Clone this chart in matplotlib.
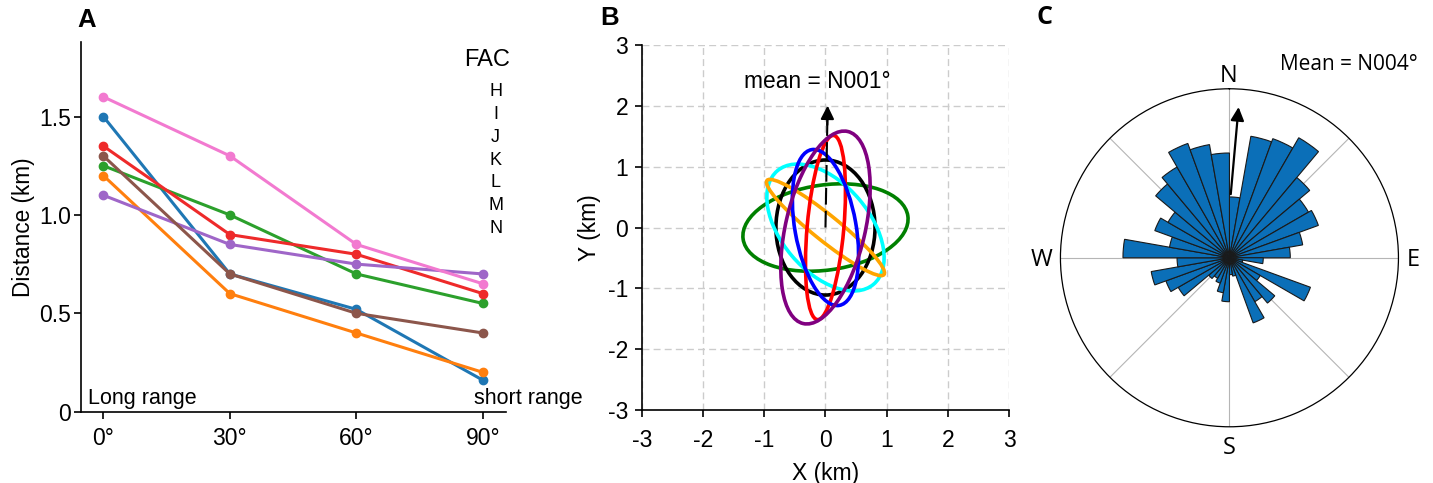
import numpy as np
import matplotlib
matplotlib.use('Agg')
from matplotlib import pyplot as plt
from matplotlib.patches import Ellipse

plt.rcParams['font.family'] = ['Liberation Sans', 'DejaVu Sans']
plt.rcParams['axes.unicode_minus'] = False

# ---- panel A data ----
angles = [0, 30, 60, 90]
angle_labels = ['0°', '30°', '60°', '90°']
fac_names = ['H', 'I', 'J', 'K', 'L', 'M', 'N']
dist_H = [1.50, 0.70, 0.52, 0.16]
dist_I = [1.20, 0.60, 0.40, 0.20]
dist_J = [1.25, 1.00, 0.70, 0.55]
dist_K = [1.35, 0.90, 0.80, 0.60]
dist_L = [1.10, 0.85, 0.75, 0.70]
dist_M = [1.30, 0.70, 0.50, 0.40]
dist_N = [1.60, 1.30, 0.85, 0.65]
line_colors = ['#1f77b4', '#ff7f0e', '#2ca02c', '#ee2a2a', '#9f66c8', '#8c564b', '#f27ad0']

# ---- panel B data (semi-axes in km, orientation of the first axis in deg) ----
ell_colors = ['green', 'black', 'cyan', 'orange', 'red', 'blue', 'purple']
ell_semi1 = [1.36, 1.11, 1.22, 1.23, 1.52, 1.30, 1.62]
ell_semi2 = [0.70, 0.81, 0.72, 0.21, 0.30, 0.50, 0.65]
ell_angle = [8, 90, -50, -39, 85, 100, 77]
mean_b = 1  # N001

# ---- panel C data (10 deg bins clockwise from N, relative frequency) ----
bin_start = np.arange(0, 360, 10)
rose_freq = [0.36, 0.73, 0.75, 0.82, 0.62, 0.54, 0.56, 0.44, 0.36,
             0.20, 0.08, 0.51, 0.21, 0.35, 0.30, 0.41, 0.11, 0.10,
             0.26, 0.21, 0.16, 0.14, 0.16, 0.35, 0.40, 0.47, 0.31,
             0.63, 0.36, 0.47, 0.42, 0.57, 0.62, 0.72, 0.68, 0.62]
mean_c = 4  # N004

fig = plt.figure(figsize=(14.33, 4.83), dpi=100)

# ================= A =================
axA = fig.add_axes([0.0565, 0.1476, 0.2964, 0.766])
series = [dist_H, dist_I, dist_J, dist_K, dist_L, dist_M, dist_N]
for vals, c in zip(series, line_colors):
    axA.plot(angles, vals, '-o', color=c, lw=2.2, ms=6)
axA.set_xlim(-5.3, 95.4)
axA.set_ylim(0, 1.88)
axA.set_xticks(angles)
axA.set_xticklabels(angle_labels)
axA.set_yticks([0, 0.5, 1.0, 1.5])
axA.set_yticklabels(['0', '0.5', '1.0', '1.5'])
axA.spines['top'].set_visible(False)
axA.spines['right'].set_visible(False)
for s in ['left', 'bottom']:
    axA.spines[s].set_linewidth(1.2)
axA.tick_params(labelsize=16.5, width=1.2, length=5)
axA.tick_params(axis='x', pad=6)
axA.tick_params(axis='y', pad=2)
axA.set_ylabel('Distance (km)', fontsize=16.3, labelpad=3)
axA.text(-3.6, 0.04, 'Long range', fontsize=15.5, va='baseline', ha='left')
axA.text(113.7, 0.04, 'short range', fontsize=15.5, va='baseline', ha='right', clip_on=False)
axA.text(90.9, 1.785, 'FAC', fontsize=17, ha='center', va='center')
for i, name in enumerate(fac_names):
    axA.text(93.0, 1.627 - i * 0.116, name, fontsize=13, ha='center', va='center')
fig.text(77 / 1433, 1 - 20 / 483, 'A', fontsize=18.5, fontweight='bold', va='center', ha='left')

# ================= B =================
axB = fig.add_axes([0.448, 0.1511, 0.2561, 0.7557])
for c, a1, a2, ang in zip(ell_colors, ell_semi1, ell_semi2, ell_angle):
    axB.add_patch(Ellipse((0, 0), 2 * a1, 2 * a2, angle=ang, fill=False,
                          edgecolor=c, lw=2.6, zorder=3))
tip = (2.05 * np.sin(np.radians(mean_b)), 2.05 * np.cos(np.radians(mean_b)))
axB.plot([0, tip[0] * 0.87], [0, tip[1] * 0.87], color='k', lw=1.5,
         ls=(0, (8, 3)), zorder=4)
axB.annotate('', xy=tip, xytext=(tip[0] * 0.8, tip[1] * 0.8),
             arrowprops=dict(arrowstyle='-|>', color='k', lw=1.5, mutation_scale=20),
             zorder=5)
axB.text(-0.13, 2.40, 'mean = N001°', fontsize=16.4, ha='center', va='center')
axB.set_xlim(-3, 3)
axB.set_ylim(-3, 3)
axB.set_xticks(range(-3, 4))
axB.set_yticks(range(-3, 4))
axB.grid(True, color='#cccccc', ls=(0, (5, 3)), lw=1.0)
axB.set_axisbelow(True)
axB.spines['top'].set_visible(False)
axB.spines['right'].set_visible(False)
for s in ['left', 'bottom']:
    axB.spines[s].set_linewidth(1.2)
axB.tick_params(labelsize=16.5, width=1.2, length=5)
axB.tick_params(axis='x', pad=9)
axB.tick_params(axis='y', pad=5)
axB.set_xlabel('X (km)', fontsize=16.5, labelpad=7)
axB.set_ylabel('Y (km)', fontsize=16.5, labelpad=5)
fig.text(600 / 1433, 1 - 18 / 483, 'B', fontsize=18.5, fontweight='bold', va='center', ha='left')

# ================= C =================
axC = fig.add_axes([0.740, 0.1164, 0.2359, 0.6998], projection='polar')
axC.set_theta_zero_location('N')
axC.set_theta_direction(-1)
theta = np.radians(bin_start + 5)
axC.bar(theta, rose_freq, width=np.radians(10), bottom=0, color='#0b6fb8',
        edgecolor='#1a1a1a', lw=0.8, zorder=2)
axC.set_ylim(0, 1)
axC.set_yticks([])
axC.set_thetagrids(range(0, 360, 45), labels=[''] * 8)
axC.grid(True, color='#b5b5b5', lw=0.8)
axC.set_axisbelow(True)
axC.spines['polar'].set_linewidth(0.9)
axC.annotate('', xy=(np.radians(mean_c - 0.5), 0.91), xytext=(np.radians(1), 0.36),
             arrowprops=dict(arrowstyle='-|>', color='k', lw=1.6, mutation_scale=20),
             zorder=5)
fcC = ['Open Sans', 'DejaVu Sans']
fig.text(1229 / 1433, 1 - 76 / 483, 'N', fontsize=17, family=fcC, ha='center', va='center')
fig.text(1229 / 1433, 1 - 448 / 483, 'S', fontsize=17, family=fcC, ha='center', va='center')
fig.text(1042 / 1433, 1 - 260 / 483, 'W', fontsize=17, family=fcC, ha='center', va='center')
fig.text(1413 / 1433, 1 - 260 / 483, 'E', fontsize=17, family=fcC, ha='center', va='center')
fig.text(1349 / 1433, 1 - 64 / 483, 'Mean = N004°', fontsize=15, family=fcC, ha='center', va='center')
fig.text(1037 / 1433, 1 - 18 / 483, 'C', fontsize=18, fontweight='bold', family=fcC,
         va='center', ha='left')

fig.savefig('out.png', dpi=100)
